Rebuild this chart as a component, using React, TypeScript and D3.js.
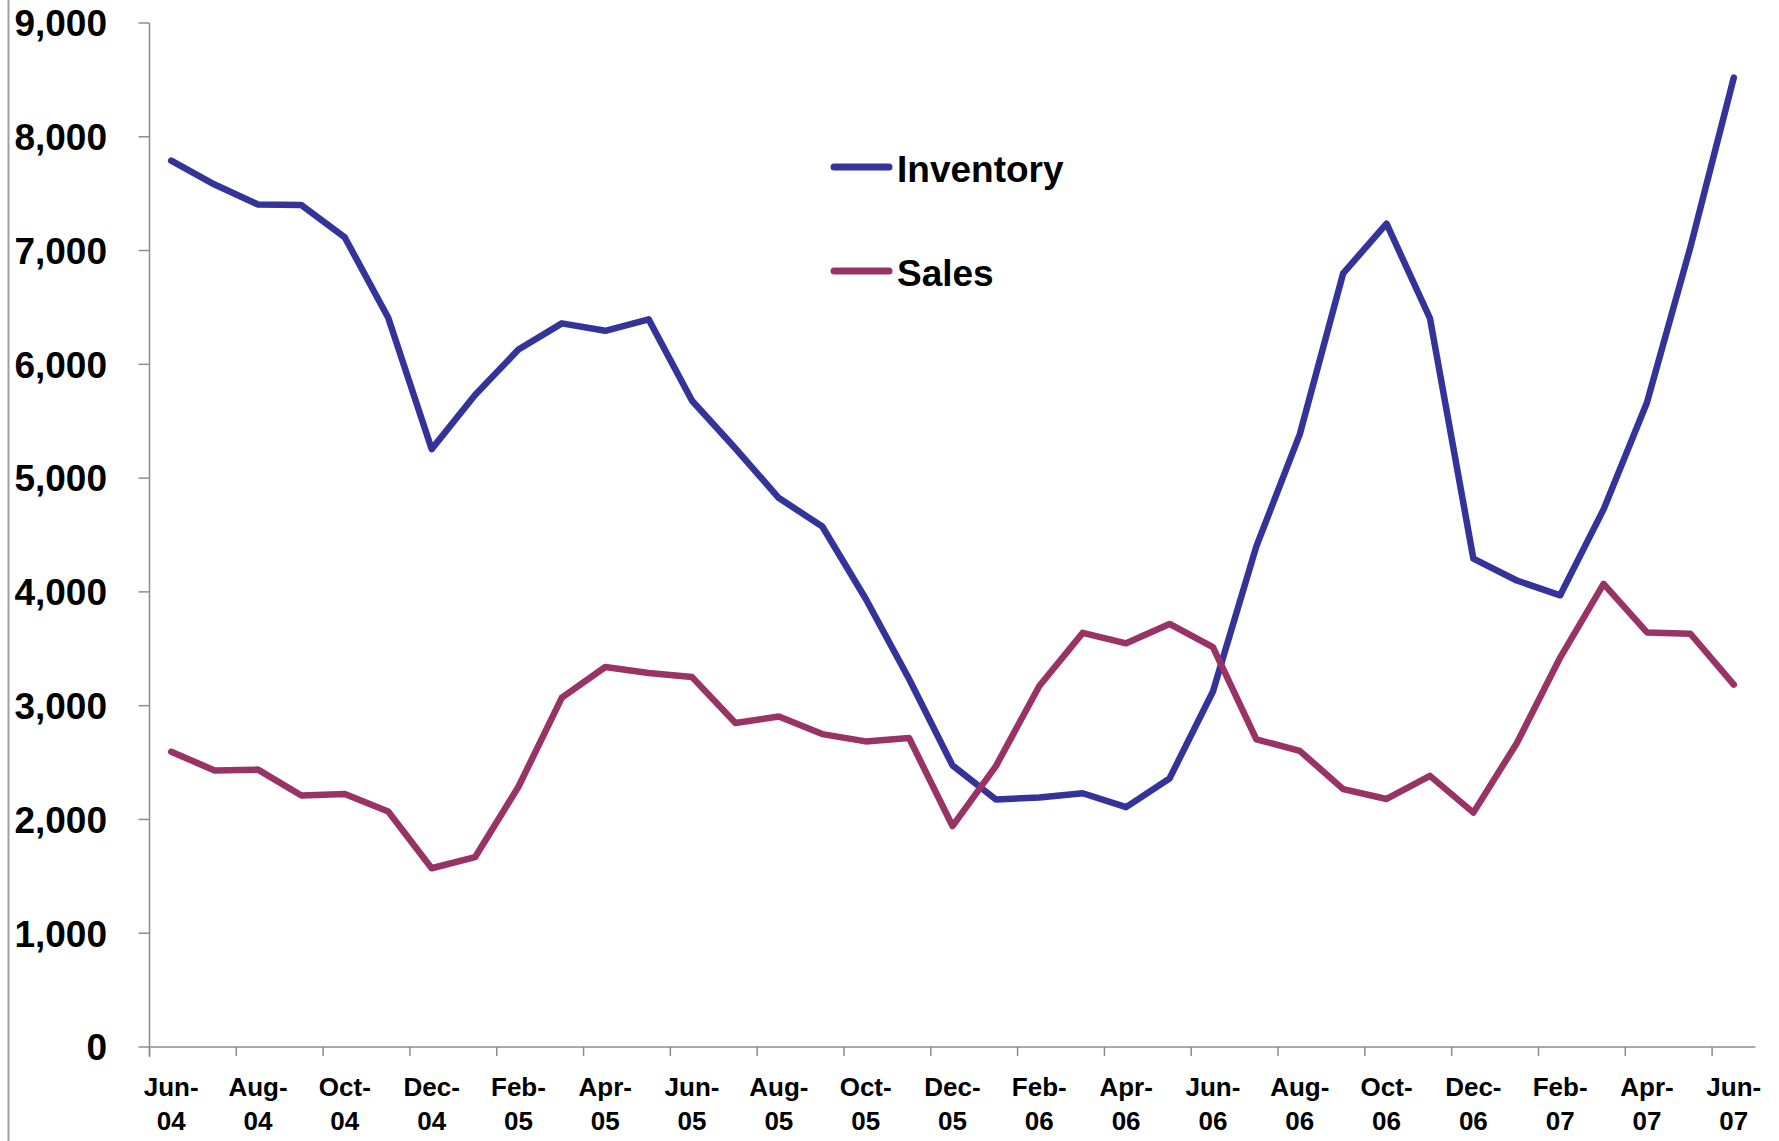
import React from "react";
import * as d3 from "d3";

const months = [
  "Jun-04","Jul-04","Aug-04","Sep-04","Oct-04","Nov-04","Dec-04",
  "Jan-05","Feb-05","Mar-05","Apr-05","May-05","Jun-05","Jul-05","Aug-05","Sep-05","Oct-05","Nov-05","Dec-05",
  "Jan-06","Feb-06","Mar-06","Apr-06","May-06","Jun-06","Jul-06","Aug-06","Sep-06","Oct-06","Nov-06","Dec-06",
  "Jan-07","Feb-07","Mar-07","Apr-07","May-07","Jun-07",
];

const inventory = [
  7790, 7580, 7405, 7400, 7115, 6410, 5255,
  5730, 6130, 6360, 6295, 6395, 5680, 5260, 4825, 4575, 3940, 3235, 2475,
  2175, 2193, 2230, 2108, 2360, 3125, 4400, 5385, 6800, 7236, 6405, 4293,
  4100, 3970, 4725, 5665, 7030, 8520,
];

const sales = [
  2595, 2431, 2438, 2210, 2224, 2070, 1571,
  1668, 2287, 3071, 3340, 3287, 3251, 2847, 2905, 2750, 2686, 2716, 1942,
  2469, 3173, 3640, 3548, 3718, 3515, 2704, 2603, 2267, 2180, 2383, 2060,
  2670, 3423, 4070, 3644, 3632, 3185,
];

const yTicks = [0, 1000, 2000, 3000, 4000, 5000, 6000, 7000, 8000, 9000];

const seriesNames = ["Inventory", "Sales"];
const seriesColors = ["#333399", "#993366"];

const W = 1779;
const H = 1141;
const FONT = "Arial, 'Liberation Sans', Helvetica, sans-serif";

export default function App() {
  const x = d3.scaleBand<string>().domain(months).range([149.5, 1755.5]).paddingInner(0).paddingOuter(0);
  const y = d3.scaleLinear().domain([0, 9000]).range([1047, 23]);
  const cx = (m: string) => (x(m) as number) + x.bandwidth() / 2;

  const line = d3
    .line<number>()
    .x((_, i) => cx(months[i]))
    .y((d) => y(d));

  const data = [inventory, sales];
  const axisColor = "#8c8c8c";
  const x0 = x.range()[0];
  const x1 = x.range()[1];
  const yBase = y(0);

  const labelIdx = months.map((_, i) => i).filter((i) => i % 2 === 0);

  return (
    <svg
      width={W}
      height={H}
      style={{ position: "absolute", left: 0, top: 0, background: "#fff" }}
      fontFamily={FONT}
    >
      <rect x={0} y={0} width={W} height={H} fill="#fff" />
      {/* left border */}
      <line x1={8.5} x2={8.5} y1={0} y2={H} stroke="#a0a0a0" strokeWidth={2} />

      {/* y axis */}
      <line x1={x0} x2={x0} y1={y(9000)} y2={yBase + 10} stroke={axisColor} strokeWidth={1.5} />
      {yTicks.map((t) => (
        <g key={t}>
          <line x1={x0 - 11} x2={x0} y1={y(t)} y2={y(t)} stroke={axisColor} strokeWidth={1.5} />
          <text
            x={107}
            y={y(t)}
            dy="0.36em"
            textAnchor="end"
            fontSize={37}
            fontWeight="bold"
            fill="#000"
          >
            {d3.format(",")(t)}
          </text>
        </g>
      ))}

      {/* x axis */}
      <line x1={x0} x2={x1} y1={yBase} y2={yBase} stroke={axisColor} strokeWidth={1.5} />
      {labelIdx.map((i) => {
        const m = months[i];
        const bx = x(m) as number;
        const [mon, yr] = m.split("-");
        return (
          <g key={m}>
            <line x1={bx} x2={bx} y1={yBase} y2={yBase + 9} stroke={axisColor} strokeWidth={1.5} />
            <text textAnchor="middle" fontSize={26} fontWeight="bold" fill="#000">
              <tspan x={cx(m)} y={1096}>{mon + "-"}</tspan>
              <tspan x={cx(m)} y={1130}>{yr}</tspan>
            </text>
          </g>
        );
      })}

      {/* series */}
      {data.map((d, k) => (
        <path
          key={seriesNames[k]}
          d={line(d) || ""}
          fill="none"
          stroke={seriesColors[k]}
          strokeWidth={6.5}
          strokeLinejoin="round"
          strokeLinecap="round"
        />
      ))}

      {/* legend */}
      {seriesNames.map((name, k) => {
        const ly = [167, 271][k];
        return (
          <g key={name}>
            <line
              x1={834}
              x2={889}
              y1={ly}
              y2={ly}
              stroke={seriesColors[k]}
              strokeWidth={7}
              strokeLinecap="round"
            />
            <text x={897} y={ly + 15} fontSize={37} fontWeight="bold" fill="#000">
              {name}
            </text>
          </g>
        );
      })}
    </svg>
  );
}
